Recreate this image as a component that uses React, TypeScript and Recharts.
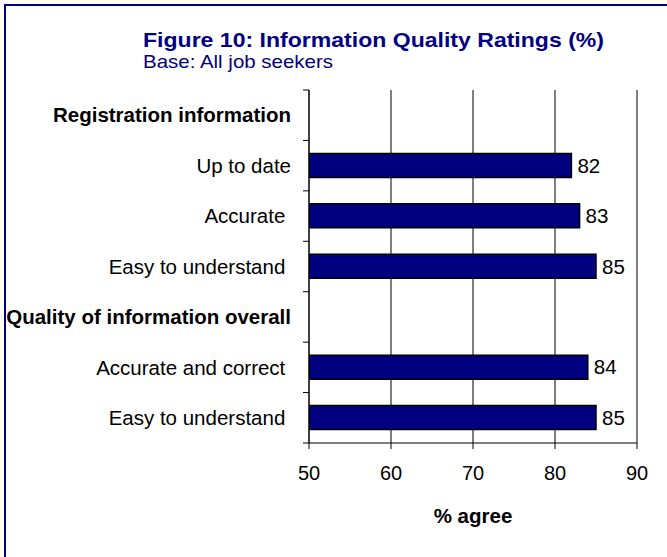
import React from 'react';
import {
  BarChart,
  Bar,
  XAxis,
  YAxis,
  CartesianGrid,
  LabelList,
} from 'recharts';

// ---- data ----
const categoryLabels = [
  'Registration information',
  'Up to date',
  'Accurate ',
  'Easy to understand ',
  'Quality of information overall',
  'Accurate and correct ',
  'Easy to understand ',
];
const isHeader = [true, false, false, false, true, false, false];
const agreeValues: (number | null)[] = [null, 82, 83, 85, null, 84, 85];
const xTicks = [50, 60, 70, 80, 90];

const titleText = 'Figure 10: Information Quality Ratings (%)';
const subtitleText = 'Base: All job seekers';
const xAxisTitle = '% agree';

const data = categoryLabels.map((label, i) => ({
  key: 'c' + i,
  label,
  value: agreeValues[i],
}));

// ---- layout ----
const W = 667;
const H = 557;
const MARGIN = { top: 90, right: 30, bottom: 34, left: 0 };
const YAXIS_W = 309;
const XAXIS_H = 80;
const PLOT_H = H - MARGIN.top - MARGIN.bottom - XAXIS_H;
const TICK_SIZE = 6;
const TICK_MARGIN = 12;
const FONT = '"Liberation Sans", Arial, sans-serif';
const NAVY = '#000080';

const CategoryTick = (props: any) => {
  const { x, y, index } = props;
  const half = PLOT_H / categoryLabels.length / 2;
  const axisX = x + TICK_MARGIN + TICK_SIZE;
  const i = typeof index === 'number' ? index : 0;
  return (
    <g>
      <text
        x={x}
        y={y}
        dy="0.355em"
        textAnchor="end"
        fontSize={20.5}
        fontFamily={FONT}
        fontWeight={isHeader[i] ? 'bold' : 'normal'}
        fill="#000"
        style={{ whiteSpace: 'pre' }}
      >
        {categoryLabels[i]}
      </text>
      <line x1={axisX - TICK_SIZE} x2={axisX} y1={y - half} y2={y - half} stroke="#000" strokeWidth={1} />
      {i === categoryLabels.length - 1 && (
        <line x1={axisX - TICK_SIZE} x2={axisX} y1={y + half} y2={y + half} stroke="#000" strokeWidth={1} />
      )}
    </g>
  );
};

export default function App() {
  return (
    <div
      style={{
        position: 'absolute',
        left: 0,
        top: 0,
        width: W,
        height: H,
        overflow: 'hidden',
        background: '#fff',
        fontFamily: FONT,
      }}
    >
      <div
        style={{
          position: 'absolute',
          left: 4,
          top: 4,
          width: W + 20,
          height: H + 20,
          borderTop: `2px solid ${NAVY}`,
          borderLeft: `2px solid ${NAVY}`,
        }}
      />
      <div style={{ position: 'absolute', left: 0, top: 0 }}>
        <BarChart
          width={W}
          height={H}
          data={data}
          layout="vertical"
          margin={MARGIN}
        >
          <CartesianGrid horizontal={false} vertical={true} stroke="#000" strokeWidth={1} />
          <XAxis
            type="number"
            domain={[50, 90]}
            ticks={xTicks}
            allowDataOverflow
            height={XAXIS_H}
            axisLine={{ stroke: '#000' }}
            tickLine={{ stroke: '#000' }}
            tickSize={TICK_SIZE}
            tickMargin={17}
            tick={{ fontSize: 20, fill: '#000', fontFamily: FONT }}
            label={{
              value: xAxisTitle,
              position: 'insideBottom',
              offset: 0,
              fontSize: 20.5,
              fontWeight: 'bold',
              fill: '#000',
              fontFamily: FONT,
            }}
          />
          <XAxis
            xAxisId="top"
            orientation="top"
            type="number"
            domain={[50, 90]}
            height={0}
            tick={false}
            tickLine={false}
            axisLine={{ stroke: '#808080' }}
          />
          <YAxis
            type="category"
            dataKey="key"
            width={YAXIS_W}
            axisLine={{ stroke: '#000' }}
            tickLine={false}
            tickSize={TICK_SIZE}
            tickMargin={TICK_MARGIN}
            tick={<CategoryTick />}
            interval={0}
          />
          <YAxis
            yAxisId="right"
            orientation="right"
            type="category"
            dataKey="key"
            width={0}
            tick={false}
            tickLine={false}
            axisLine={{ stroke: '#808080' }}
          />
          <Bar
            dataKey="value"
            fill={NAVY}
            stroke="#000"
            strokeWidth={1.5}
            barSize={24}
            isAnimationActive={false}
          >
            <LabelList
              dataKey="value"
              position="right"
              offset={6}
              style={{ fontSize: 20.5, fill: '#000', fontFamily: FONT }}
            />
          </Bar>
        </BarChart>
      </div>
      <svg
        width={W}
        height={H}
        style={{ position: 'absolute', left: 0, top: 0, pointerEvents: 'none' }}
      >
        <text
          x={143}
          y={46.5}
          fontSize={21}
          fontWeight="bold"
          fill={NAVY}
          fontFamily={FONT}
          textLength={461}
          lengthAdjust="spacingAndGlyphs"
        >
          {titleText}
        </text>
        <text
          x={143}
          y={67.5}
          fontSize={19}
          fill={NAVY}
          fontFamily={FONT}
          textLength={190}
          lengthAdjust="spacingAndGlyphs"
        >
          {subtitleText}
        </text>
      </svg>
    </div>
  );
}
